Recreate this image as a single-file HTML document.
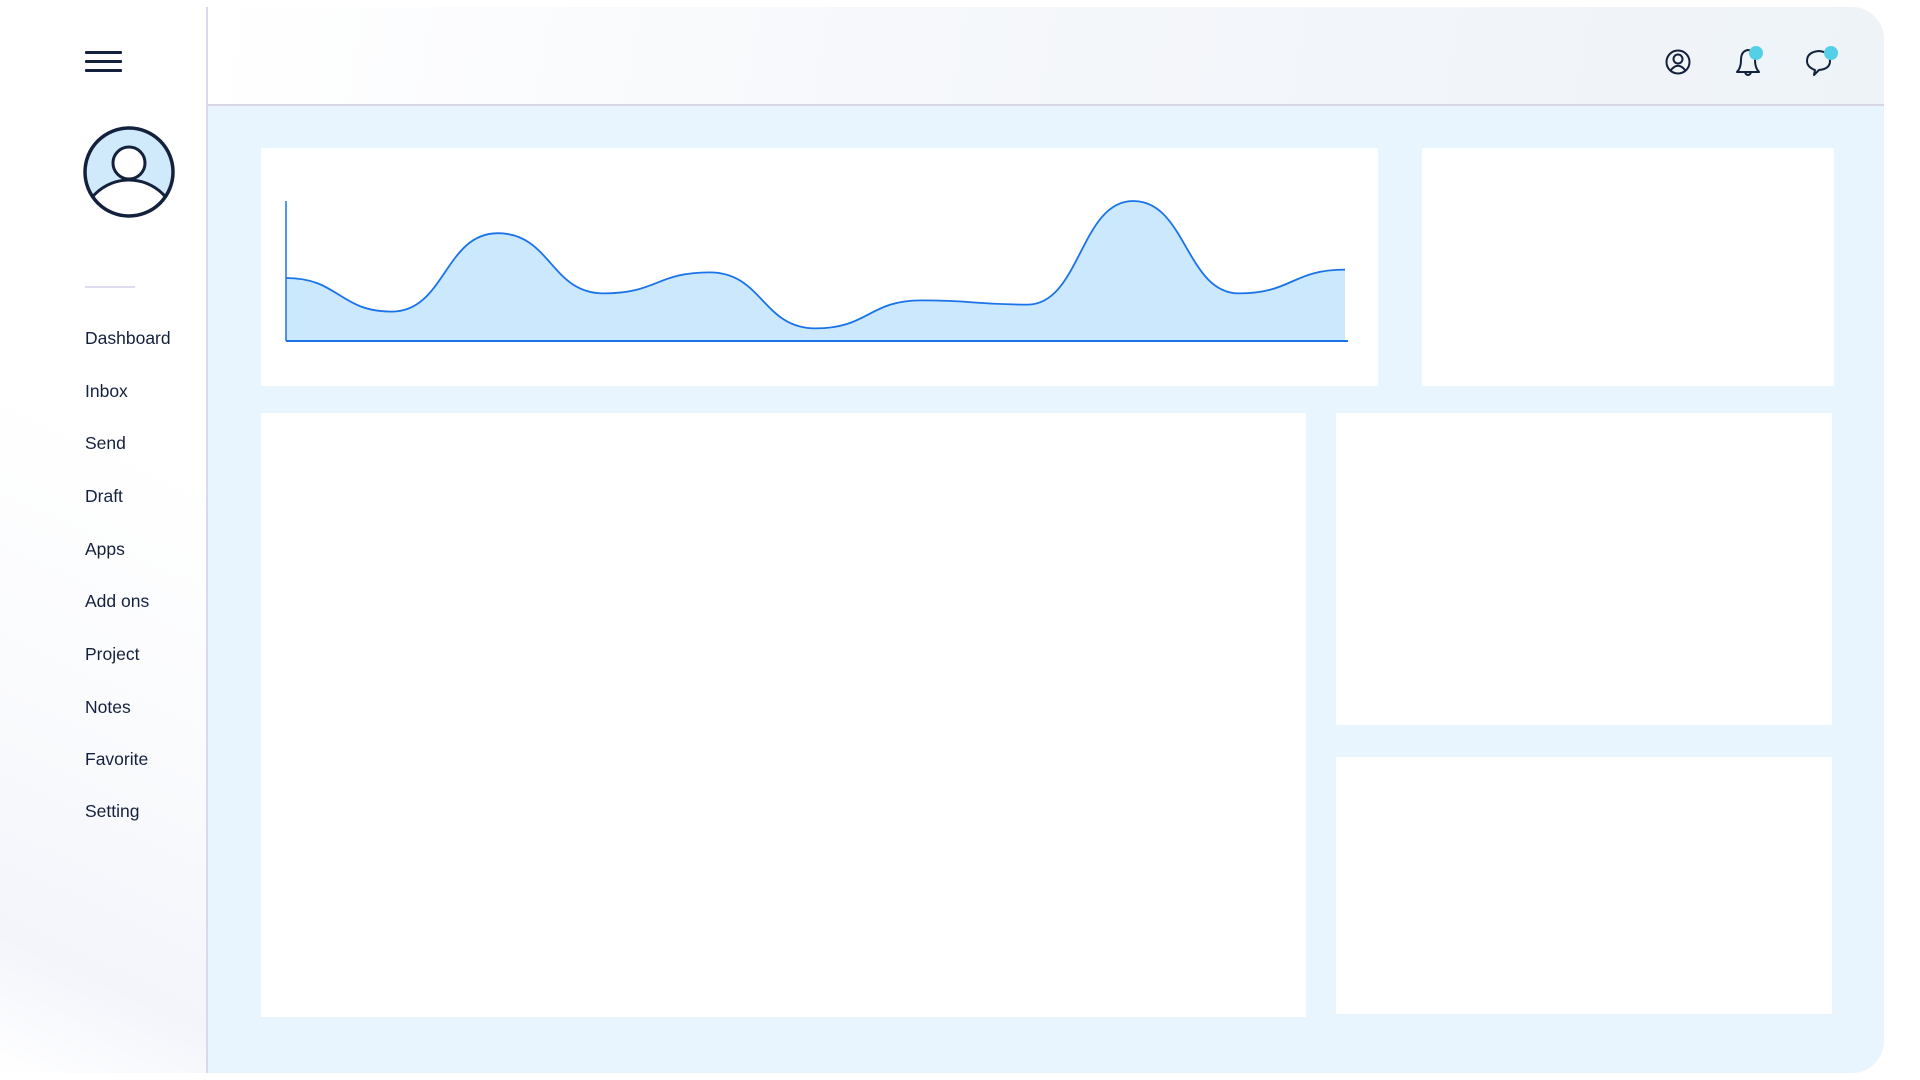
<!DOCTYPE html>
<html><head><meta charset="utf-8"><style>
html,body{margin:0;padding:0;width:1920px;height:1080px;overflow:hidden;background:#fff;font-family:"Liberation Sans",sans-serif;}
.abs{position:absolute;}
#sidebar{left:0;top:7px;width:206px;height:1066px;background:linear-gradient(25deg,#ffffff 0%,#f3f5fb 12%,#fafbfd 35%,#ffffff 60%);border-right:2px solid #d9d9ee;}
#header{left:208px;top:7px;width:1676px;height:97px;background:linear-gradient(100deg,#ffffff 0%,#f6f8fb 40%,#eef3f8 100%);border-bottom:2px solid #d8d6e6;border-top-right-radius:32px;}
#main{left:208px;top:106px;width:1676px;height:967px;background:#e9f5fe;border-bottom-right-radius:32px;}
.card{position:absolute;background:#fff;}
.menu{position:absolute;left:85px;font-size:17.5px;color:#14213d;line-height:20px;height:20px;margin-top:-10px;}
.hb{position:absolute;left:85px;width:37px;height:3px;background:#14213d;border-radius:1px;}
</style></head><body>
<div id="sidebar" class="abs"></div>
<div class="hb" style="top:51px"></div>
<div class="hb" style="top:60px"></div>
<div class="hb" style="top:69px"></div>
<svg class="abs" style="left:80px;top:123px" width="98" height="98">
<defs><clipPath id="cc"><circle cx="49" cy="49" r="44"/></clipPath></defs>
<circle cx="49" cy="49" r="44" fill="#d0e9fb"/>
<g clip-path="url(#cc)"><circle cx="49" cy="105" r="48" fill="#fff" stroke="#14213d" stroke-width="3"/></g>
<circle cx="49" cy="40" r="16" fill="#fff" stroke="#14213d" stroke-width="3"/>
<circle cx="49" cy="49" r="44" fill="none" stroke="#14213d" stroke-width="3.5"/>
</svg>
<div class="abs" style="left:85px;top:286px;width:50px;height:2px;background:#dcdcee"></div>
<div class="menu" style="top:338px">Dashboard</div>
<div class="menu" style="top:391px">Inbox</div>
<div class="menu" style="top:443px">Send</div>
<div class="menu" style="top:496px">Draft</div>
<div class="menu" style="top:549px">Apps</div>
<div class="menu" style="top:601px">Add ons</div>
<div class="menu" style="top:654px">Project</div>
<div class="menu" style="top:707px">Notes</div>
<div class="menu" style="top:759px">Favorite</div>
<div class="menu" style="top:811px">Setting</div>

<div id="header" class="abs"></div>
<svg class="abs" style="left:1660px;top:44px" width="36" height="36">
<circle cx="18" cy="18" r="11.5" fill="none" stroke="#14213d" stroke-width="2"/>
<circle cx="18" cy="15" r="4.5" fill="none" stroke="#14213d" stroke-width="2"/>
<path d="M10.5 26.5 Q18 17 25.5 26.5" fill="none" stroke="#14213d" stroke-width="2"/>
</svg>
<svg class="abs" style="left:1728px;top:42px" width="44" height="40">
<path d="M9 30 Q13 26 13 18 Q13 9 20 8 Q27 9 27 18 Q27 26 31 30 Z" fill="none" stroke="#14213d" stroke-width="2" stroke-linejoin="round"/>
<path d="M17 31 Q20 35 23 31" fill="none" stroke="#14213d" stroke-width="2"/>
<circle cx="28" cy="11" r="7" fill="#55cfe6"/>
</svg>
<svg class="abs" style="left:1800px;top:42px" width="44" height="40">
<path d="M14 33 L15 28 Q7 25 7 19 Q7 10 19 9 Q30 10 30 19 Q30 27 19 28 Z" fill="none" stroke="#14213d" stroke-width="2" stroke-linejoin="round"/>
<circle cx="31" cy="11" r="7" fill="#55cfe6"/>
</svg>

<div id="main" class="abs"></div>
<div class="card" style="left:261px;top:148px;width:1117px;height:238px"></div>
<div class="card" style="left:1422px;top:148px;width:412px;height:238px"></div>
<div class="card" style="left:261px;top:413px;width:1045px;height:604px"></div>
<div class="card" style="left:1336px;top:413px;width:496px;height:312px"></div>
<div class="card" style="left:1336px;top:757px;width:496px;height:257px"></div>

<svg id="chart" class="abs" style="left:0;top:0" width="1920" height="1080"></svg>
<script>
const categories = [0,1,2,3,4,5,6,7,8,9,10];
const values = [45,21,77,34,49,9,29,26,100,34,51];
const NS = "http://www.w3.org/2000/svg";
const svg = document.getElementById('chart');
const x0 = 286, x1 = 1345, yBase = 341, yTop = 201, vMax = 100;
function xs(i){ return x0 + (x1 - x0) * i / (categories.length - 1); }
function ys(v){ return yBase - (yBase - yTop) * v / vMax; }
let d = '';
categories.forEach((c, i) => {
  const x = xs(i), y = ys(values[i]);
  if (i === 0) d += 'M' + x + ' ' + y;
  else {
    const px = xs(i - 1), py = ys(values[i - 1]), mx = (px + x) / 2;
    d += ' C' + mx + ' ' + py + ' ' + mx + ' ' + y + ' ' + x + ' ' + y;
  }
});
const area = document.createElementNS(NS, 'path');
area.setAttribute('d', d + ' L' + xs(categories.length - 1) + ' ' + yBase + ' L' + x0 + ' ' + yBase + ' Z');
area.setAttribute('fill', '#cce8fc');


svg.appendChild(area);
const line = document.createElementNS(NS, 'path');
line.setAttribute('d', d);
line.setAttribute('fill', 'none');
line.setAttribute('stroke', '#1a73e8');
line.setAttribute('stroke-width', '1.8');


svg.appendChild(line);
const yAxis = document.createElementNS(NS, 'line');
yAxis.setAttribute('x1', x0); yAxis.setAttribute('x2', x0);
yAxis.setAttribute('y1', yTop); yAxis.setAttribute('y2', yBase);
yAxis.setAttribute('stroke', '#1a73e8'); yAxis.setAttribute('stroke-width', '1.5');


svg.appendChild(yAxis);
const xAxis = document.createElementNS(NS, 'line');
xAxis.setAttribute('x1', x0); xAxis.setAttribute('x2', 1348);
xAxis.setAttribute('y1', yBase); xAxis.setAttribute('y2', yBase);
xAxis.setAttribute('stroke', '#1a73e8'); xAxis.setAttribute('stroke-width', '2');


svg.appendChild(xAxis);
</script>
</body></html>
